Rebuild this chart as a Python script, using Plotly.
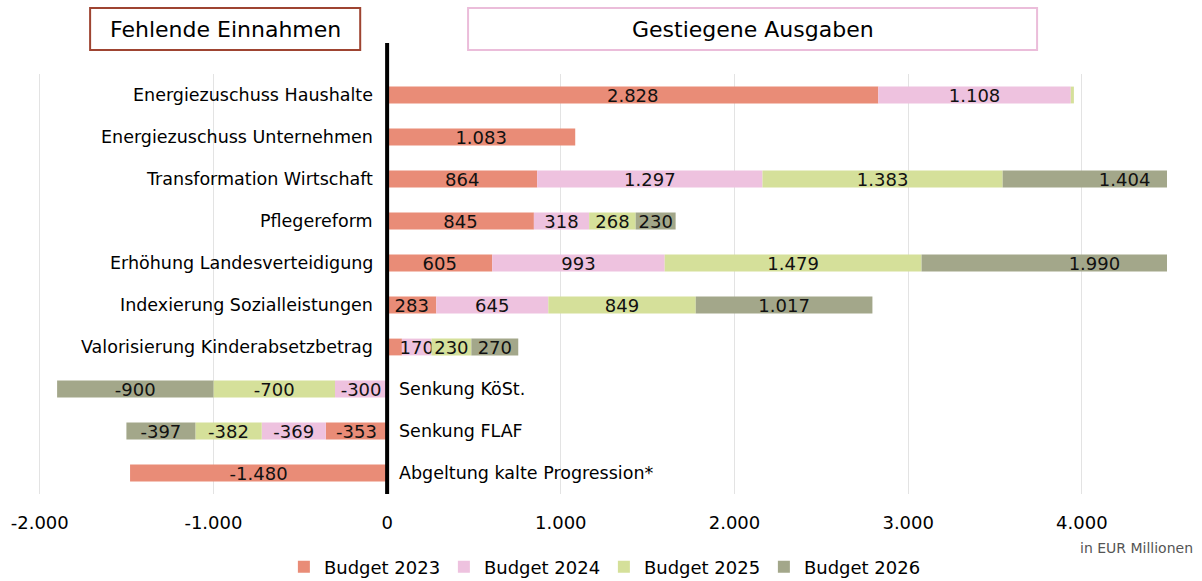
import plotly.graph_objects as go

# Kategorien von oben nach unten
categories = [
    "Energiezuschuss Haushalte",
    "Energiezuschuss Unternehmen",
    "Transformation Wirtschaft",
    "Pflegereform",
    "Erhöhung Landesverteidigung",
    "Indexierung Sozialleistungen",
    "Valorisierung Kinderabsetzbetrag",
    "Senkung KöSt.",
    "Senkung FLAF",
    "Abgeltung kalte Progression*",
]

# Werte in EUR Millionen
budget_2023 = [2828, 1083, 864, 845, 605, 283, 85, 0, -353, -1480]
budget_2024 = [1108, 0, 1297, 318, 993, 645, 170, -300, -369, 0]
budget_2025 = [18, 0, 1383, 268, 1479, 849, 230, -700, -382, 0]
budget_2026 = [0, 0, 1404, 230, 1990, 1017, 270, -900, -397, 0]

series_names = ["Budget 2023", "Budget 2024", "Budget 2025", "Budget 2026"]
tick_values = [-2000, -1000, 0, 1000, 2000, 3000, 4000]

colors = ["#E98C77", "#EEC2DF", "#D5E09A", "#A3A78A"]
FONT = "DejaVu Sans"


def fmt(v):
    # deutsches Zahlenformat, kleine Werte ohne Beschriftung
    if abs(v) < 100:
        return ""
    return f"{v:,}".replace(",", ".")


fig = go.Figure()

for name, vals, col in zip(series_names, [budget_2023, budget_2024, budget_2025, budget_2026], colors):
    fig.add_trace(go.Bar(
        y=categories,
        x=vals,
        name=name,
        orientation="h",
        marker=dict(color=col, line=dict(width=0)),
        width=0.4,
        text=[fmt(v) for v in vals],
        textposition="inside",
        insidetextanchor="middle",
        textfont=dict(color="#111111", size=18, family=FONT),
        hoverinfo="x+name",
    ))

# Kategorie-Beschriftungen neben der Nulllinie
annotations = []
for cat, v23, v24 in zip(categories, budget_2023, budget_2024):
    negative = (v23 + v24) < 0
    annotations.append(dict(
        x=0, y=cat, xref="x", yref="y",
        text=cat, showarrow=False,
        xanchor="left" if negative else "right",
        xshift=10 if negative else -12,
        font=dict(size=17.5, color="black", family=FONT),
    ))

# Überschriften in Rahmen
annotations += [
    dict(x=-932, y=1.107, xref="x", yref="paper", yanchor="middle", text="Fehlende Einnahmen",
         showarrow=False, font=dict(size=22, color="black", family=FONT)),
    dict(x=2104, y=1.107, xref="x", yref="paper", yanchor="middle", text="Gestiegene Ausgaben",
         showarrow=False, font=dict(size=22, color="black", family=FONT)),
    dict(x=1.024, y=-0.129, xref="paper", yref="paper", text="in EUR Millionen",
         showarrow=False, xanchor="right", yanchor="middle",
         font=dict(size=14, color="#555555", family=FONT)),
]

shapes = [
    dict(type="rect", xref="x", yref="paper", x0=-1710, x1=-155, y0=1.057, y1=1.157,
         line=dict(color="#9E4431", width=2), fillcolor="white"),
    dict(type="rect", xref="x", yref="paper", x0=466, x1=3742, y0=1.057, y1=1.157,
         line=dict(color="#EBBDDA", width=2), fillcolor="white"),
    dict(type="line", xref="x", yref="paper", x0=0, x1=0, y0=0, y1=1.074,
         line=dict(color="black", width=4), layer="above"),
]

fig.update_layout(
    width=1202,
    height=581,
    barmode="relative",
    plot_bgcolor="white",
    paper_bgcolor="white",
    margin=dict(l=5, r=35, t=74, b=87, autoexpand=False),
    font=dict(family=FONT, size=16, color="black"),
    uniformtext=dict(minsize=18, mode="show"),
    showlegend=True,
    legend=dict(
        orientation="h",
        x=0.24, xanchor="left",
        y=0.024, yanchor="middle", yref="container",
        font=dict(size=18, family=FONT),
        entrywidth=115,
        traceorder="normal",
    ),
    annotations=annotations,
    shapes=shapes,
    xaxis=dict(
        range=[-2200, 4490],
        tickvals=tick_values,
        ticktext=[fmt(v) if v != 0 else "0" for v in tick_values],
        showgrid=True,
        gridcolor="#E3E3E3",
        gridwidth=1,
        zeroline=False,
        showline=False,
        automargin=False,
        ticklabelstandoff=16,
        tickfont=dict(size=18, family=FONT),
        fixedrange=True,
    ),
    yaxis=dict(
        categoryorder="array",
        categoryarray=categories,
        autorange="reversed",
        showticklabels=False,
        showgrid=False,
        zeroline=False,
        automargin=False,
        fixedrange=True,
    ),
)

fig.write_html("out.html", config={"displayModeBar": False},
               post_script="document.body.style.margin='0';")
